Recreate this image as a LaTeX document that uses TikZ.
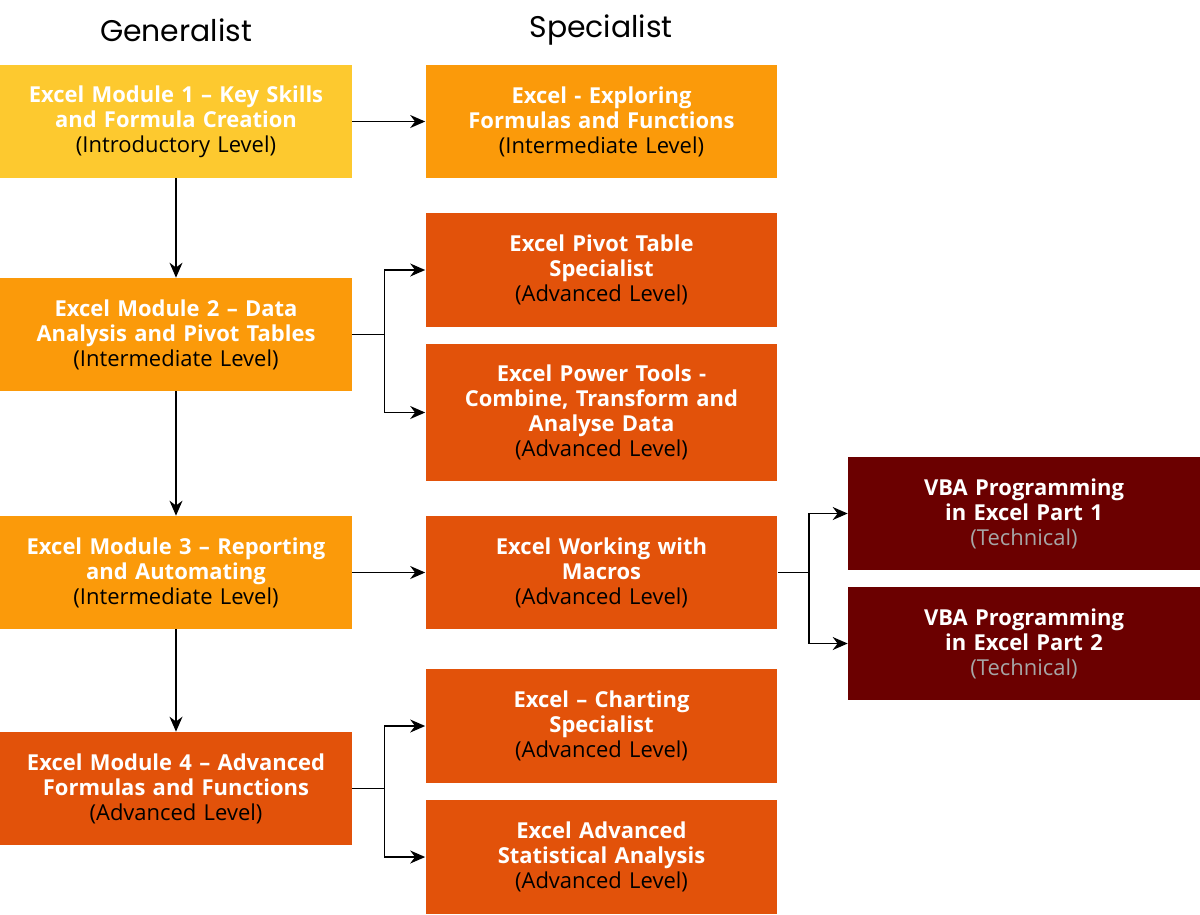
\documentclass[tikz,border=0pt]{standalone}
\usepackage{fontspec}
\setmainfont{Open Sans}
\newfontfamily\headfont{Poppins}
\usetikzlibrary{arrows.meta}
\definecolor{cyellow}{HTML}{FDC92F}
\definecolor{corange}{HTML}{FB9A0A}
\definecolor{cdark}{HTML}{E2520A}
\definecolor{cred}{HTML}{6B0000}
\tikzset{
  box/.style={fill=#1, minimum width=7.04cm, text width=6.9cm, align=center, inner sep=0pt,
    font=\fontsize{12.5}{14.2}\selectfont},
  conn/.style={thick, -{Stealth[length=3mm,width=2.6mm]}},
}
\newcommand{\ttl}[1]{\textcolor{white}{\bfseries #1}}
\begin{document}
\begin{tikzpicture}[x=0.02cm,y=-0.02cm]
\useasboundingbox (0,0) rectangle (1200,914);
\node[font=\headfont\fontsize{17}{20}\selectfont] (hg) at (176,30) {Generalist};
\node[font=\headfont\fontsize{17}{20}\selectfont] (hs) at (601,30) {Specialist};

\node[box=cyellow, minimum height=2.26cm] (g1) at (176,121.5) {\ttl{Excel Module 1 – Key Skills\\and Formula Creation}\\(Introductory Level)};
\node[box=corange, minimum height=2.26cm] (g2) at (176,334.5) {\ttl{Excel Module 2 – Data\\Analysis and Pivot Tables}\\(Intermediate Level)};
\node[box=corange, minimum height=2.26cm] (g3) at (176,572.5) {\ttl{Excel Module 3 – Reporting\\and Automating}\\(Intermediate Level)};
\node[box=cdark, minimum height=2.26cm] (g4) at (176,788.5) {\ttl{Excel Module 4 – Advanced\\Formulas and Functions}\\(Advanced Level)};

\node[box=corange, minimum height=2.26cm] (s1) at (601.5,121.5) {\ttl{Excel - Exploring\\Formulas and Functions}\\(Intermediate Level)};
\node[box=cdark, minimum height=2.28cm] (s2) at (601.5,270) {\ttl{Excel Pivot Table\\Specialist}\\(Advanced Level)};
\node[box=cdark, minimum height=2.74cm] (s3) at (601.5,412.5) {\ttl{Excel Power Tools -\\Combine, Transform and\\Analyse Data}\\(Advanced Level)};
\node[box=cdark, minimum height=2.26cm] (s4) at (601.5,572.5) {\ttl{Excel Working with\\Macros}\\(Advanced Level)};
\node[box=cdark, minimum height=2.28cm] (s5) at (601.5,726) {\ttl{Excel – Charting\\Specialist}\\(Advanced Level)};
\node[box=cdark, minimum height=2.28cm] (s6) at (601.5,857) {\ttl{Excel Advanced\\Statistical Analysis}\\(Advanced Level)};

\node[box=cred, minimum height=2.26cm] (v1) at (1024,513.5) {\ttl{VBA Programming\\in Excel Part 1}\\\textcolor{gray!70}{(Technical)}};
\node[box=cred, minimum height=2.26cm] (v2) at (1024,643.5) {\ttl{VBA Programming\\in Excel Part 2}\\\textcolor{gray!70}{(Technical)}};

\draw[conn] (g1) -- (s1);
\draw[conn] (g1) -- (g2);
\draw[conn] (g2) -- (g3);
\draw[conn] (g3) -- (g4);
\draw[conn] (g3) -- (s4);
\draw[conn] (g2.east) -| ++(32,0) |- (s2);
\draw[conn] (g2.east) -| ++(32,0) |- (s3);
\draw[conn] (g4.east) -| ++(32,0) |- (s5);
\draw[conn] (g4.east) -| ++(32,0) |- (s6);
\draw[conn] (s4.east) -| ++(31,0) |- (v1);
\draw[conn] (s4.east) -| ++(31,0) |- (v2);
\end{tikzpicture}
\end{document}
